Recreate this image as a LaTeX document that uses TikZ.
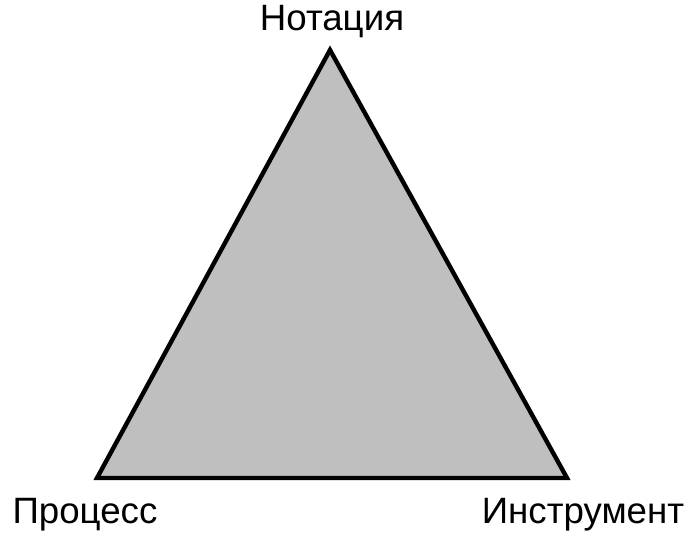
\documentclass[tikz,border=0pt]{standalone}
\usepackage{fontspec}
\setmainfont{Liberation Sans}
\usetikzlibrary{positioning}

\tikzset{
  corner/.style={font=\fontsize{27.5}{33}\selectfont, inner sep=0pt, anchor=base},
  side/.style={line width=3.3pt, line join=miter, fill=black!25}
}

\begin{document}
\begin{tikzpicture}[x=0.75pt, y=-0.75pt]
        \useasboundingbox (0,0) rectangle (692,556);

        % corners of the triangle
        \coordinate (top) at (330,50);
        \coordinate (left) at (97,478);
        \coordinate (right) at (567,478);

        \draw[side] (top) -- (left) -- (right) -- cycle;

        % labels
        \node[corner] (notation) at (332,31) {Нотация};
        \node[corner] (process) at (85,523) {Процесс};
        \node[corner] (tool) at (583,523) {Инструмент};
    \end{tikzpicture}
\end{document}
